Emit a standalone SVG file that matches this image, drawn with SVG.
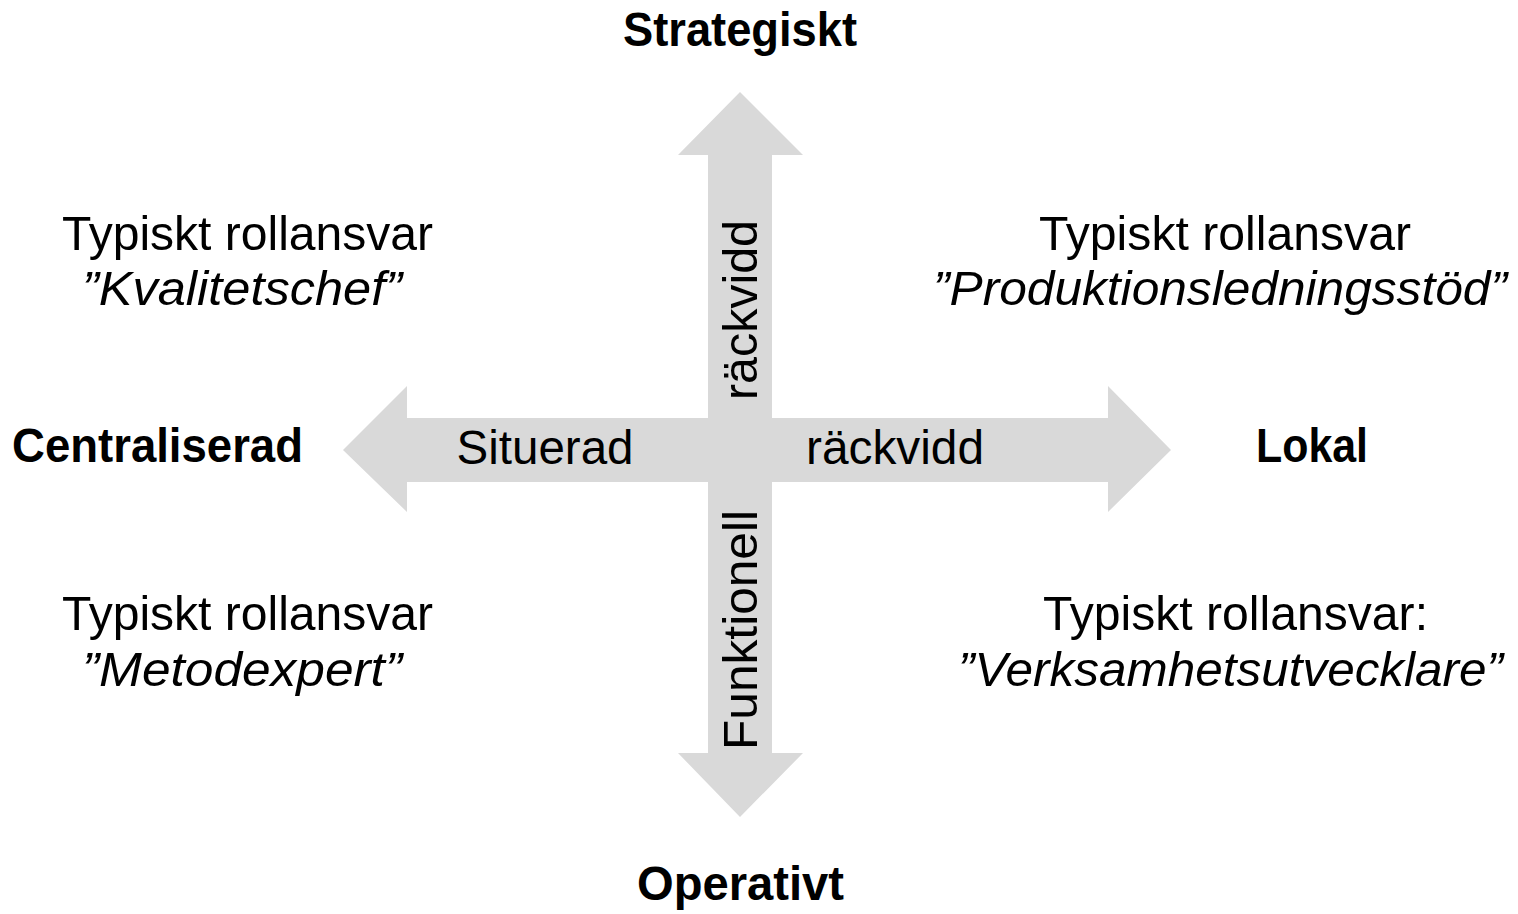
<svg xmlns="http://www.w3.org/2000/svg" width="1518" height="914" viewBox="0 0 1518 914">
<style>
.t{font-family:"Liberation Sans",Arial,sans-serif;font-size:48px;fill:#000;text-anchor:middle}
.b{font-weight:bold}
.i{font-style:italic}
.arrow{fill:#d9d9d9;stroke:none}
</style>
<rect width="1518" height="914" fill="#fff"/>
<g id="connectors">
<polygon class="arrow" points="740,92 803,155 772,155 772,753 803,753 740,817 678,753 708,753 708,155 678,155"/>
<polygon class="arrow" points="343,450 407,386 407,418 1108,418 1108,386 1171,450 1108,512 1108,482 407,482 407,512"/>
</g>
<g id="axis-labels">
<text class="t" x="545" y="464" textLength="177" lengthAdjust="spacingAndGlyphs">Situerad</text>
<text class="t" x="895" y="464" textLength="178" lengthAdjust="spacingAndGlyphs">räckvidd</text>
<text class="t" transform="translate(757,310) rotate(-90)" x="0" y="0" textLength="180" lengthAdjust="spacingAndGlyphs">räckvidd</text>
<text class="t" transform="translate(757,630) rotate(-90)" x="0" y="0" textLength="240" lengthAdjust="spacingAndGlyphs">Funktionell</text>
</g>
<g id="strategiskt"><text class="t b" x="740" y="46" textLength="234" lengthAdjust="spacingAndGlyphs">Strategiskt</text></g>
<g id="operativt"><text class="t b" x="740.5" y="900" textLength="207" lengthAdjust="spacingAndGlyphs">Operativt</text></g>
<g id="centraliserad"><text class="t b" x="157.5" y="462" textLength="291" lengthAdjust="spacingAndGlyphs">Centraliserad</text></g>
<g id="lokal"><text class="t b" x="1312" y="462" textLength="112" lengthAdjust="spacingAndGlyphs">Lokal</text></g>
<g id="kvalitetschef">
<text class="t" x="247.5" y="250" textLength="371" lengthAdjust="spacingAndGlyphs">Typiskt rollansvar</text>
<text class="t i" x="242" y="305" textLength="320" lengthAdjust="spacingAndGlyphs">”Kvalitetschef”</text>
</g>
<g id="produktionsledningsstod">
<text class="t" x="1225" y="250" textLength="372" lengthAdjust="spacingAndGlyphs">Typiskt rollansvar</text>
<text class="t i" x="1220" y="305" textLength="574" lengthAdjust="spacingAndGlyphs">”Produktionsledningsstöd”</text>
</g>
<g id="metodexpert">
<text class="t" x="247.5" y="630" textLength="371" lengthAdjust="spacingAndGlyphs">Typiskt rollansvar</text>
<text class="t i" x="242" y="686" textLength="320" lengthAdjust="spacingAndGlyphs">”Metodexpert”</text>
</g>
<g id="verksamhetsutvecklare">
<text class="t" x="1235.5" y="630" textLength="385" lengthAdjust="spacingAndGlyphs">Typiskt rollansvar:</text>
<text class="t i" x="1230.5" y="686" textLength="545" lengthAdjust="spacingAndGlyphs">”Verksamhetsutvecklare”</text>
</g>
</svg>
